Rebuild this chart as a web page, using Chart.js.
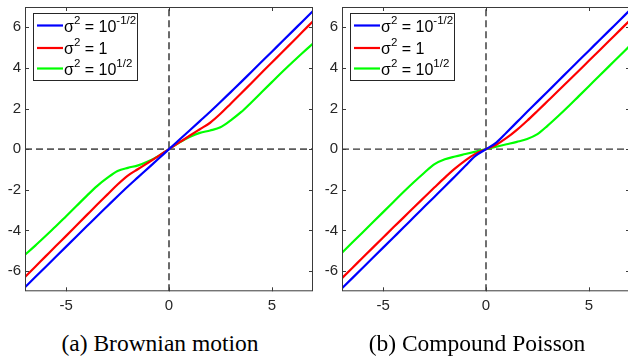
<!DOCTYPE html>
<html>
<head>
<meta charset="utf-8">
<script src="https://cdn.jsdelivr.net/npm/chart.js@4.4.1/dist/chart.umd.min.js"></script>
<style>
  html, body { margin: 0; padding: 0; background: #fff; }
  body { width: 628px; height: 359px; overflow: hidden; position: relative; }
  .panel { position: absolute; top: 0; width: 320px; height: 320px; }
  #wrapA { left: 0; }
  #wrapB { left: 317px; }
  .caption {
    position: absolute; top: 330px; line-height: 26px;
    font-family: "Liberation Serif", "DejaVu Serif", serif; font-size: 23.5px;
    color: #000; white-space: nowrap; transform: translateX(-50%);
  }
</style>
</head>
<body>
<div class="panel" id="wrapA"><canvas id="chartA"></canvas></div>
<div class="panel" id="wrapB"><canvas id="chartB"></canvas></div>
<div class="caption" style="left:160px">(a) Brownian motion</div>
<div class="caption" style="left:477px">(b) Compound Poisson</div>

<script>
// data
const xs = [-7, -6.5, -6, -5.5, -5, -4.5, -4, -3.5, -3, -2.5, -2, -1.5, -1, -0.5, 0,
            0.5, 1, 1.5, 2, 2.5, 3, 3.5, 4, 4.5, 5, 5.5, 6, 6.5, 7];

const brownBlue  = [-6.8, -6.3, -5.8, -5.3, -4.8, -4.3, -3.8, -3.3, -2.81, -2.32, -1.84, -1.38, -0.92, -0.46, 0,
                    0.46, 0.92, 1.38, 1.84, 2.32, 2.81, 3.3, 3.8, 4.3, 4.8, 5.3, 5.8, 6.3, 6.8];
const brownRed   = [-6.3, -5.79, -5.28, -4.77, -4.27, -3.76, -3.25, -2.74, -2.24, -1.74, -1.3, -0.98, -0.66, -0.33, 0,
                    0.33, 0.66, 0.98, 1.3, 1.74, 2.24, 2.74, 3.25, 3.76, 4.27, 4.77, 5.28, 5.79, 6.3];
const brownGreen = [-5.2, -4.75, -4.28, -3.8, -3.3, -2.8, -2.3, -1.82, -1.42, -1.08, -0.92, -0.8, -0.6, -0.33, 0,
                    0.33, 0.6, 0.8, 0.92, 1.08, 1.42, 1.82, 2.3, 2.8, 3.3, 3.8, 4.28, 4.75, 5.2];

const poisBlue  = [-6.85, -6.35, -5.85, -5.35, -4.85, -4.35, -3.85, -3.34, -2.84, -2.34, -1.84, -1.33, -0.82, -0.32, 0,
                   0.32, 0.82, 1.33, 1.84, 2.34, 2.84, 3.34, 3.85, 4.35, 4.85, 5.35, 5.85, 6.35, 6.85];
const poisRed   = [-6.35, -5.85, -5.35, -4.85, -4.35, -3.85, -3.36, -2.86, -2.37, -1.88, -1.4, -0.95, -0.55, -0.22, 0,
                   0.22, 0.55, 0.95, 1.4, 1.88, 2.37, 2.86, 3.36, 3.85, 4.35, 4.85, 5.35, 5.85, 6.35];
const poisGreen = [-5.1, -4.6, -4.1, -3.6, -3.1, -2.6, -2.1, -1.62, -1.16, -0.74, -0.5, -0.36, -0.24, -0.12, 0,
                   0.12, 0.24, 0.36, 0.5, 0.74, 1.16, 1.62, 2.1, 2.6, 3.1, 3.6, 4.1, 4.6, 5.1];

const xTicks = [-5, 0, 5];
const yTicks = [-6, -4, -2, 0, 2, 4, 6];
const seriesColors = ['#0000ff', '#ff0000', '#00ff00'];
// label pieces: [normal, superscript, normal, superscript]
const seriesLabels = [
  ['σ', '2', ' = 10', '-1/2'],
  ['σ', '2', ' = 1'],
  ['σ', '2', ' = 10', '1/2']
];

const toPoints = (ys) => xs.map((x, i) => ({ x: x, y: ys[i] }));

// frame, inward ticks and the legend box
const matlabAxes = {
  id: 'matlabAxes',
  afterDatasetsDraw(chart) {
    const { ctx, chartArea: a, scales } = chart;
    const tl = 4;
    ctx.save();
    ctx.strokeStyle = '#3a3a3a';
    ctx.lineWidth = 1;
    ctx.strokeRect(a.left + 0.5, a.top + 0.5, a.right - a.left - 1, a.bottom - a.top - 1);
    ctx.beginPath();
    xTicks.forEach(v => {
      const px = Math.round(scales.x.getPixelForValue(v)) + 0.5;
      ctx.moveTo(px, a.bottom); ctx.lineTo(px, a.bottom - tl);
      ctx.moveTo(px, a.top); ctx.lineTo(px, a.top + tl);
    });
    yTicks.forEach(v => {
      const py = Math.round(scales.y.getPixelForValue(v)) + 0.5;
      ctx.moveTo(a.left, py); ctx.lineTo(a.left + tl, py);
      ctx.moveTo(a.right, py); ctx.lineTo(a.right - tl, py);
    });
    ctx.stroke();
    ctx.restore();
  },
  afterDraw(chart) {
    const { ctx, chartArea: a } = chart;
    const bx = a.left + 8, by = a.top + 6, bw = 104, bh = 67;
    const rows = [12.5, 35, 55.5];
    ctx.save();
    ctx.fillStyle = '#fff';
    ctx.fillRect(bx, by, bw, bh);
    ctx.strokeStyle = '#262626';
    ctx.lineWidth = 1;
    ctx.strokeRect(bx + 0.5, by + 0.5, bw, bh);
    seriesLabels.forEach((parts, i) => {
      const y = by + rows[i];
      ctx.strokeStyle = seriesColors[i];
      ctx.lineWidth = 2.2;
      ctx.beginPath();
      ctx.moveTo(bx + 4, y);
      ctx.lineTo(bx + 30, y);
      ctx.stroke();
      let tx = bx + 31;
      ctx.fillStyle = '#000';
      ctx.textBaseline = 'alphabetic';
      parts.forEach((p, j) => {
        const sup = j % 2 === 1;
        ctx.font = (sup ? '11.5px' : '16px') + ' "Liberation Sans", Arial, sans-serif';
        ctx.fillText(p, tx, y + 6 - (sup ? 8 : 0));
        tx += ctx.measureText(p).width;
      });
    });
    ctx.restore();
  }
};

const makeChart = (id, ys, dashColor, dashWidth) => {
  const datasets = ys.map((arr, i) => ({
    data: toPoints(arr),
    borderColor: seriesColors[i],
    borderWidth: 2.2,
    pointRadius: 0,
    cubicInterpolationMode: 'monotone',
    order: i
  }));
  // dashed zero lines
  datasets.push({
    data: [{ x: -7, y: 0 }, { x: 7, y: 0 }],
    borderColor: dashColor, borderWidth: dashWidth, borderDash: [7, 4],
    pointRadius: 0, order: 10
  });
  datasets.push({
    data: [{ x: 0, y: -7 }, { x: 0, y: 7 }],
    borderColor: dashColor, borderWidth: dashWidth, borderDash: [7, 4],
    pointRadius: 0, order: 10
  });

  const tickFont = { family: '"Liberation Sans", Arial, sans-serif', size: 15 };
  return new Chart(document.getElementById(id), {
    type: 'line',
    data: { datasets },
    options: {
      responsive: true,
      maintainAspectRatio: false,
      animation: false,
      layout: { padding: { left: 0, right: 7, top: 7, bottom: 0 } },
      plugins: { legend: { display: false }, tooltip: { enabled: false } },
      scales: {
        x: {
          type: 'linear', min: -7, max: 7,
          grid: { display: false, drawTicks: false },
          border: { display: false },
          ticks: { font: tickFont, color: '#262626', padding: 6, maxRotation: 0, autoSkip: false },
          afterBuildTicks: (s) => { s.ticks = xTicks.map(v => ({ value: v })); },
          afterFit: (s) => { s.height = 28.7; s.paddingLeft = 0; s.paddingRight = 0; }
        },
        y: {
          type: 'linear', min: -7, max: 7,
          grid: { display: false, drawTicks: false },
          border: { display: false },
          ticks: { font: tickFont, color: '#262626', padding: 4, autoSkip: false },
          afterBuildTicks: (s) => { s.ticks = yTicks.map(v => ({ value: v })); },
          afterFit: (s) => { s.width = 25; s.paddingTop = 0; s.paddingBottom = 0; }
        }
      }
    },
    plugins: [matlabAxes]
  });
};

document.addEventListener('DOMContentLoaded', () => {
  makeChart('chartA', [brownBlue, brownRed, brownGreen], '#5a5a5a', 1.8);
  makeChart('chartB', [poisBlue, poisRed, poisGreen], '#333333', 1.4);
});
</script>
</body>
</html>
